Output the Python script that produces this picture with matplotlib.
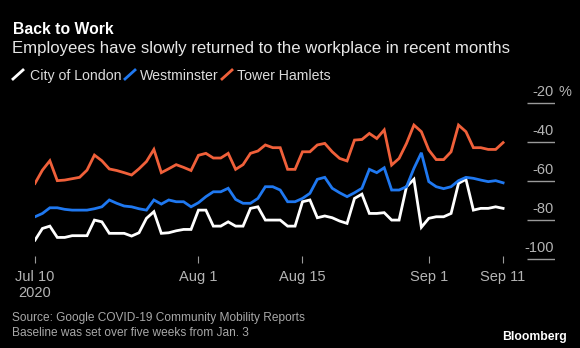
import matplotlib
matplotlib.use("Agg")
import matplotlib.pyplot as plt
import numpy as np
import pandas as pd
from matplotlib.lines import Line2D

# daily values, Jul 10 -> Sep 11 2020, % change from baseline
dates = pd.date_range("2020-07-10", "2020-09-11", freq="D")

city_of_london = [
    -90.3, -84.3, -83.1, -88.9, -88.9, -88.0, -88.0, -88.0, -80.0, -80.9,
    -86.8, -86.8, -86.8, -88.2, -86.5, -79.1, -75.7, -86.8, -86.5, -85.5,
    -84.8, -84.8, -74.9, -74.9, -83.1, -83.1, -80.9, -83.1, -83.1, -74.0,
    -73.2, -80.0, -80.0, -80.0, -83.1, -83.1, -70.6, -69.7, -78.8, -77.9,
    -78.8, -80.5, -81.7, -68.9, -66.7, -76.6, -76.6, -76.2, -80.0, -80.0,
    -62.9, -59.1, -83.7, -79.1, -78.3, -78.3, -76.6, -61.2, -59.1, -74.9,
    -74.0, -74.0, -73.2, -74.0,
]
westminster = [
    -78.3, -76.6, -73.7, -73.7, -74.5, -74.9, -74.9, -74.9, -74.2, -73.2,
    -69.7, -71.4, -72.8, -73.2, -74.2, -74.9, -69.7, -71.8, -69.7, -70.6,
    -70.6, -73.2, -71.1, -68.0, -65.5, -65.5, -63.7, -69.4, -71.4, -71.4,
    -68.9, -62.9, -62.9, -64.6, -70.6, -70.6, -68.9, -66.3, -59.1, -58.1,
    -63.7, -66.0, -68.0, -66.0, -63.7, -54.0, -55.7, -53.2, -64.6, -64.6,
    -62.9, -53.5, -45.5, -60.3, -62.9, -63.9, -62.9, -59.8, -58.1, -58.6,
    -59.5, -60.3, -59.8, -60.9,
]
tower_hamlets = [
    -61.2, -54.4, -49.6, -59.8, -59.5, -58.8, -58.1, -54.4, -46.7, -49.6,
    -53.8, -54.6, -55.7, -56.9, -53.7, -50.0, -43.8, -55.7, -53.7, -51.6,
    -53.0, -54.6, -46.8, -45.8, -48.2, -48.2, -45.8, -54.0, -51.6, -45.8,
    -44.6, -41.5, -42.9, -42.9, -54.0, -54.0, -45.0, -45.0, -41.5, -40.7,
    -45.0, -48.4, -49.7, -39.0, -38.7, -35.6, -38.2, -33.8, -51.8, -48.4,
    -40.7, -31.3, -34.7, -44.1, -49.0, -49.0, -45.0, -31.3, -34.7, -42.9,
    -42.9, -43.8, -43.8, -40.3,
]

series_names = ["City of London", "Westminster", "Tower Hamlets"]
series_colors = ["#ffffff", "#1f78f0", "#f0603a"]

y_ticks = [-20, -40, -60, -80, -100]
x_ticks = ["2020-07-10", "2020-08-01", "2020-08-15", "2020-09-01", "2020-09-11"]
x_labels = ["Jul 10\n2020", "Aug 1", "Aug 15", "Sep 1", "Sep 11"]

plt.rcParams["font.family"] = ["Liberation Sans", "DejaVu Sans"]

W, H = 580, 348
fig = plt.figure(figsize=(W / 100, H / 100), dpi=100, facecolor="black")


def fx(px):
    return px / W


def fy(py):
    return 1 - py / H


# plot area: day 0 at x=35, gridline labels end at x=555
ax = fig.add_axes([fx(35), fy(263), fx(555 - 35), fy(95) - fy(263)])
ax.set_facecolor("black")
for s in ax.spines.values():
    s.set_visible(False)

x = np.arange(len(dates))
for vals, col in zip([city_of_london, westminster, tower_hamlets], series_colors):
    ax.plot(x, vals, color=col, lw=2.0, solid_joinstyle="miter")

ax.set_xlim(0, (555 - 35) / 7.43)
ax.set_ylim(-102.0, -15.9)

tick_pos = [(pd.Timestamp(t) - dates[0]).days for t in x_ticks]
ax.set_xticks(tick_pos)
ax.set_xticklabels(x_labels, color="#b4b4b4", fontsize=10.5, linespacing=1.15)
ax.tick_params(axis="x", direction="in", length=5, width=0.8, color="#9a9a9a", pad=5)
ax.set_yticks([])

# right-hand gridlines with labels sitting on them
ytr = ax.get_yaxis_transform()
ax.hlines(y_ticks, (527 - 35) / 520, 1.0, transform=ytr, color="#9a9a9a", lw=1.0)
for v in y_ticks:
    ax.text(0.997, v + 2.3, str(v), transform=ytr, ha="right", va="bottom",
            color="#b4b4b4", fontsize=10.5)
ax.text(1.006, y_ticks[0] + 2.3, "%", transform=ytr, ha="left", va="bottom",
        color="#b4b4b4", fontsize=10.5)

# titles
fig.text(fx(13), fy(34), "Back to Work", color="white", fontsize=11.3,
         fontweight="bold", va="baseline")
fig.text(fx(12), fy(53.5), "Employees have slowly returned to the workplace in recent months",
         color="#e6e6e6", fontsize=12.1, va="baseline")

# legend with slanted strokes
leg_slash = [13, 125, 222]
leg_text = [30, 140, 237]
for sx, tx, name, col in zip(leg_slash, leg_text, series_names, series_colors):
    fig.add_artist(Line2D([fx(sx), fx(sx + 10)], [fy(79), fy(70)],
                          color=col, lw=2.0, transform=fig.transFigure))
    fig.text(fx(tx), fy(80), name, color="#dcdcdc", fontsize=10.2, va="baseline")

# footer
fig.text(fx(12), fy(321), "Source: Google COVID-19 Community Mobility Reports",
         color="#a8a8a8", fontsize=8.6, va="baseline")
fig.text(fx(12), fy(335.5), "Baseline was set over five weeks from Jan. 3",
         color="#a8a8a8", fontsize=8.6, va="baseline")
fig.text(fx(567), fy(340), "Bloomberg", color="white", fontsize=8.8,
         fontweight="bold", ha="right", va="baseline")

fig.savefig("out.png", dpi=100, facecolor="black")
